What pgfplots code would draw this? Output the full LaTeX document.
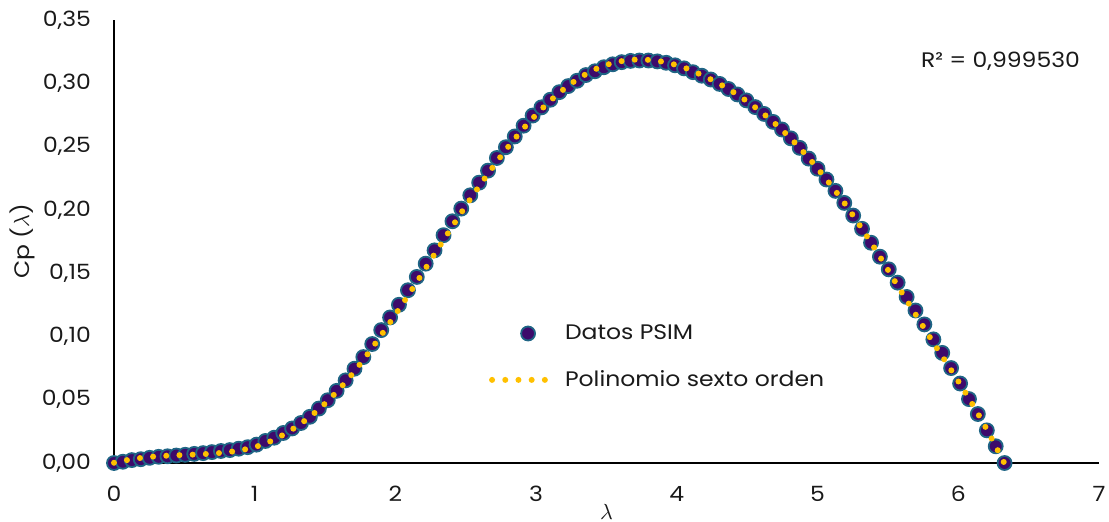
\documentclass[border=0pt]{standalone}
\usepackage{pgfplots}
\pgfplotsset{compat=1.18}
\usepackage{fontspec}
\setmainfont{Poppins}[FakeStretch=1.12]
\definecolor{cpfill}{HTML}{3D0A6B}
\definecolor{cpedge}{HTML}{1F6585}
\definecolor{polyc}{HTML}{FFC000}
\definecolor{txt}{HTML}{1A1A1A}

\begin{document}
\begin{tikzpicture}
\begin{axis}[
  scale only axis,
  width=492.5pt, height=221.5pt,
  xmin=0, xmax=7, ymin=0, ymax=0.35,
  clip=false, clip mode=individual,
  axis x line*=bottom, axis y line*=left,
  axis line style={black, line width=1pt, -},
  xtick={0,1,2,3,4,5,6,7},
  ytick={0,0.05,0.10,0.15,0.20,0.25,0.30,0.35},
  major tick length=0pt,
  tick style={draw=none},
  every tick label/.append style={font=\fontsize{10.5}{12}\selectfont, text=txt},
  /pgf/number format/assume math mode=true,
  yticklabel style={/pgf/number format/.cd, fixed, fixed zerofill, precision=2, use comma, /tikz/.cd, xshift=-8pt},
  xticklabel style={/pgf/number format/.cd, fixed, precision=0, /tikz/.cd, yshift=-8pt},
  ylabel={Cp ($\lambda$)},
  ylabel style={at={(axis description cs:-0.0934,0.5)}, anchor=center, font=\fontsize{10.5}{12}\selectfont, text=txt},
  xlabel={$\lambda$},
  xlabel style={at={(axis description cs:0.5,-0.11)}, anchor=center, font=\fontsize{10.5}{12}\selectfont, text=txt},
  legend style={at={(axis cs:2.62,0.116)}, anchor=north west, draw=none, fill=none,
    font=\fontsize{10.5}{12}\selectfont, text=txt, row sep=10pt,
    nodes={inner sep=2pt}},
  legend cell align=left,
  legend image code/.code={\draw[mark repeat=2,mark phase=2,#1] plot coordinates {(0pt,0pt) (18pt,0pt) (29pt,0pt)}; \path (33pt,0pt);},
]
\addplot[only marks, mark=*, mark size=3.5pt, mark options={fill=cpfill, draw=cpedge, line width=0.9pt}] coordinates {
(0.000,0.0000) (0.063,0.0010) (0.127,0.0023) (0.190,0.0030) (0.253,0.0041)
(0.317,0.0049) (0.380,0.0053) (0.443,0.0059) (0.506,0.0065) (0.570,0.0072)
(0.633,0.0078) (0.696,0.0086) (0.760,0.0095) (0.823,0.0102) (0.886,0.0113)
(0.950,0.0125) (1.013,0.0145) (1.076,0.0174) (1.139,0.0200) (1.203,0.0237)
(1.266,0.0273) (1.329,0.0316) (1.392,0.0365) (1.456,0.0430) (1.519,0.0496)
(1.582,0.0570) (1.646,0.0653) (1.709,0.0745) (1.772,0.0837) (1.835,0.0940)
(1.899,0.1050) (1.962,0.1150) (2.025,0.1250) (2.089,0.1365) (2.152,0.1470)
(2.215,0.1575) (2.278,0.1680) (2.342,0.1800) (2.405,0.1910) (2.468,0.2010)
(2.532,0.2115) (2.595,0.2215) (2.658,0.2310) (2.721,0.2410) (2.785,0.2495)
(2.848,0.2580) (2.911,0.2665) (2.975,0.2745) (3.038,0.2810) (3.101,0.2870)
(3.165,0.2930) (3.228,0.2978) (3.291,0.3020) (3.354,0.3065) (3.418,0.3095)
(3.481,0.3127) (3.544,0.3150) (3.608,0.3167) (3.671,0.3177) (3.734,0.3180)
(3.798,0.3180) (3.861,0.3173) (3.924,0.3162) (3.987,0.3142) (4.051,0.3118)
(4.114,0.3088) (4.177,0.3060) (4.241,0.3030) (4.304,0.2995) (4.367,0.2955)
(4.430,0.2912) (4.494,0.2865) (4.557,0.2812) (4.620,0.2758) (4.684,0.2695)
(4.747,0.2635) (4.810,0.2565) (4.873,0.2490) (4.937,0.2405) (5.000,0.2325)
(5.063,0.2240) (5.127,0.2150) (5.190,0.2055) (5.253,0.1955) (5.316,0.1850)
(5.380,0.1740) (5.443,0.1630) (5.506,0.1530) (5.569,0.1425) (5.633,0.1312)
(5.696,0.1205) (5.759,0.1095) (5.823,0.0977) (5.886,0.0870) (5.949,0.0750)
(6.013,0.0628) (6.076,0.0505) (6.139,0.0387) (6.203,0.0258) (6.266,0.0132)
(6.329,0.0000)
};
\addlegendentry{Datos PSIM}
\addplot[polyc, line width=3pt, line cap=round, dash pattern=on 0pt off 6.6pt, smooth, no marks] coordinates {
(0.000,0.0002) (0.127,0.0030) (0.253,0.0048) (0.380,0.0058) (0.506,0.0064)
(0.633,0.0070) (0.760,0.0080) (0.886,0.0098) (1.013,0.0130) (1.139,0.0185)
(1.266,0.0265) (1.392,0.0365) (1.519,0.0490) (1.646,0.0640) (1.772,0.0815)
(1.899,0.1010) (2.025,0.1215) (2.152,0.1430) (2.278,0.1650) (2.405,0.1870)
(2.532,0.2085) (2.658,0.2285) (2.785,0.2475) (2.911,0.2645) (3.038,0.2795)
(3.165,0.2925) (3.291,0.3030) (3.418,0.3110) (3.544,0.3160) (3.671,0.3185)
(3.798,0.3185) (3.924,0.3165) (4.051,0.3125) (4.177,0.3065) (4.304,0.2995)
(4.430,0.2910) (4.557,0.2810) (4.684,0.2695) (4.810,0.2563) (4.937,0.2410)
(5.063,0.2240) (5.190,0.2055) (5.316,0.1850) (5.443,0.1630) (5.569,0.1400)
(5.696,0.1175) (5.823,0.0950) (5.949,0.0735) (6.076,0.0510) (6.203,0.0265)
(6.329,-0.0005)
};
\addlegendentry{Polinomio sexto orden}
\node[font=\fontsize{10.5}{12}\selectfont, text=txt] at (axis cs:6.30,0.3176) {R² = 0,999530};
\end{axis}
\pgfresetboundingbox
\path (-57pt,-29pt) rectangle (497.5pt,231.5pt);
\end{tikzpicture}
\end{document}
